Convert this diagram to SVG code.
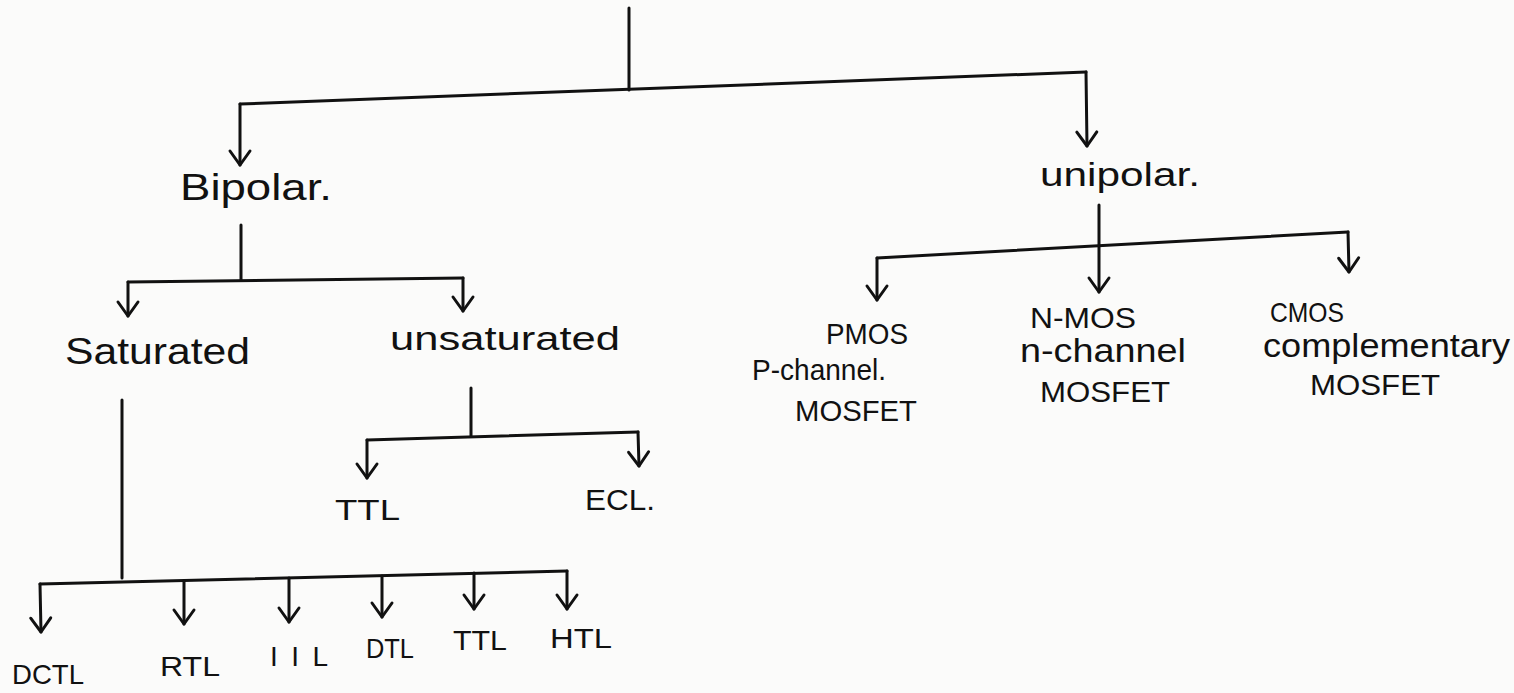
<svg xmlns="http://www.w3.org/2000/svg" width="1514" height="693" viewBox="0 0 1514 693">
<defs>
<marker id="v" viewBox="-3 -14 20 28" refX="14" refY="0" markerWidth="20" markerHeight="28" markerUnits="userSpaceOnUse" orient="auto" overflow="visible">
<path d="M0 -10 L14 0 L0 10" fill="none" stroke="#111" stroke-width="3" stroke-linecap="round" stroke-linejoin="round"/>
</marker>
<style>
.c{fill:none;stroke:#111;stroke-width:3;stroke-linecap:round;stroke-linejoin:round}
.a{marker-end:url(#v)}
text{font-family:"Liberation Sans",Arial,sans-serif;fill:#111;font-size:37px}
.m{font-size:34px}
.s{font-size:30px}
.t{font-size:28px}
</style>
</defs>
<rect width="1514" height="693" fill="#fbfbfa"/>
<g id="connectors">
<path class="c" d="M629 8 L629 90"/>
<path class="c" d="M240 104 L1086 72"/>
<path class="c a" d="M240 104 L240 165"/>
<path class="c a" d="M1086 72 L1087 146"/>
<path class="c" d="M241 225 L241 280"/>
<path class="c" d="M128 282 L463 278"/>
<path class="c a" d="M128 282 L128 316"/>
<path class="c a" d="M463 278 L463 311"/>
<path class="c" d="M122 400 L122 578"/>
<path class="c" d="M471 388 L471 436"/>
<path class="c" d="M367 440 L638 432"/>
<path class="c a" d="M367 440 L367 478"/>
<path class="c a" d="M638 432 L639 466"/>
<path class="c" d="M40 584 L567 571"/>
<path class="c a" d="M40 584 L41 632"/>
<path class="c a" d="M184 581 L184 624"/>
<path class="c a" d="M289 578 L289 622"/>
<path class="c a" d="M382 576 L382 617"/>
<path class="c a" d="M474 573 L474 609"/>
<path class="c a" d="M567 571 L567 609"/>
<path class="c a" d="M1099 205 L1099 292"/>
<path class="c" d="M877 258 L1348 232"/>
<path class="c a" d="M877 258 L877 300"/>
<path class="c a" d="M1348 232 L1349 272"/>
</g>
<g id="bipolar"><text x="180" y="200" textLength="152" lengthAdjust="spacingAndGlyphs">Bipolar.</text></g>
<g id="unipolar"><text class="m" x="1040" y="186" textLength="160" lengthAdjust="spacingAndGlyphs">unipolar.</text></g>
<g id="saturated"><text x="65" y="364" textLength="185" lengthAdjust="spacingAndGlyphs">Saturated</text></g>
<g id="unsaturated"><text class="m" x="390" y="350" textLength="230" lengthAdjust="spacingAndGlyphs">unsaturated</text></g>
<g id="ttl1"><text class="s" x="335" y="520" textLength="65" lengthAdjust="spacingAndGlyphs">TTL</text></g>
<g id="ecl"><text class="s" x="585" y="510" textLength="70" lengthAdjust="spacingAndGlyphs">ECL.</text></g>
<g id="dctl"><text class="t" x="12" y="684" textLength="72" lengthAdjust="spacingAndGlyphs">DCTL</text></g>
<g id="rtl"><text class="t" x="160" y="676" textLength="60" lengthAdjust="spacingAndGlyphs">RTL</text></g>
<g id="iil"><text class="t" x="270" y="666" textLength="58" lengthAdjust="spacing">IIL</text></g>
<g id="dtl"><text class="t" x="366" y="658" textLength="48" lengthAdjust="spacingAndGlyphs">DTL</text></g>
<g id="ttl2"><text class="t" x="453" y="650" textLength="54" lengthAdjust="spacingAndGlyphs">TTL</text></g>
<g id="htl"><text class="t" x="550" y="648" textLength="62" lengthAdjust="spacingAndGlyphs">HTL</text></g>
<g id="pmos">
<text class="s" x="826" y="344" textLength="82" lengthAdjust="spacingAndGlyphs">PMOS</text>
<text class="s" x="752" y="380" textLength="134" lengthAdjust="spacingAndGlyphs">P-channel.</text>
<text class="s" x="795" y="421" textLength="122" lengthAdjust="spacingAndGlyphs">MOSFET</text>
</g>
<g id="nmos">
<text class="s" x="1030" y="328" textLength="106" lengthAdjust="spacingAndGlyphs">N-MOS</text>
<text class="m" x="1020" y="362" textLength="166" lengthAdjust="spacingAndGlyphs">n-channel</text>
<text class="s" x="1040" y="402" textLength="130" lengthAdjust="spacingAndGlyphs">MOSFET</text>
</g>
<g id="cmos">
<text class="t" x="1270" y="322" textLength="74" lengthAdjust="spacingAndGlyphs">CMOS</text>
<text class="m" x="1263" y="357" textLength="247" lengthAdjust="spacingAndGlyphs">complementary</text>
<text class="s" x="1310" y="395" textLength="130" lengthAdjust="spacingAndGlyphs">MOSFET</text>
</g>
</svg>
